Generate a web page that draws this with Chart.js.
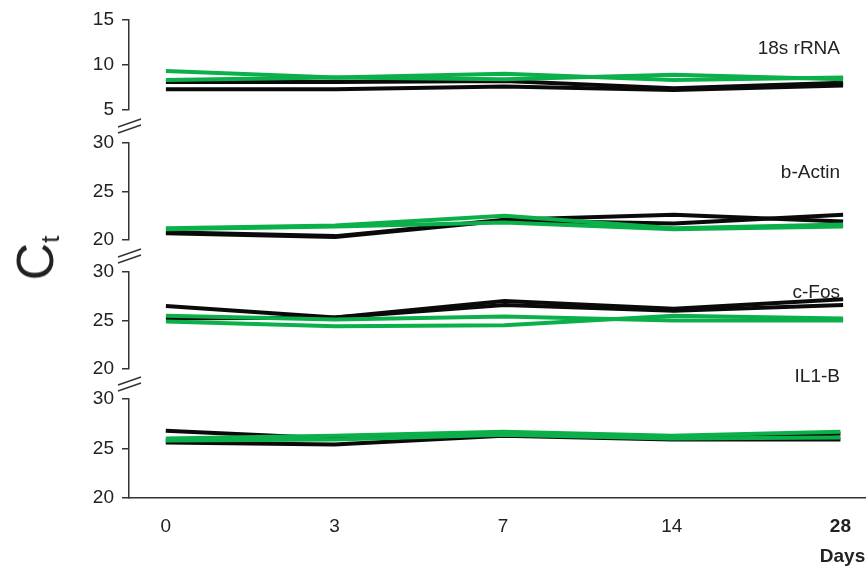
<!DOCTYPE html>
<html>
<head>
<meta charset="utf-8">
<script src="https://cdn.jsdelivr.net/npm/chart.js@4"></script>
<style>
  body { margin: 0; background: #fff; }
  #wrap { position: relative; width: 868px; height: 574px; font-family: "Liberation Sans", Arial, sans-serif; color: #222; }
  canvas { position: absolute; left: 0; top: 0; }
  .gene { position: absolute; right: 28px; font-size: 19px; line-height: 1; transform: translateY(-50%); }
  #ct { position: absolute; left: 36px; top: 258px; font-size: 52px; line-height: 1; white-space: nowrap;
        transform: translate(-50%, -50%) rotate(-90deg); }
  #ct sub { font-size: 26px; vertical-align: -6px; }
</style>
</head>
<body>
<div id="wrap">
  <canvas id="c0" width="868" height="574"></canvas>
  <canvas id="c1" width="868" height="574"></canvas>
  <canvas id="c2" width="868" height="574"></canvas>
  <canvas id="c3" width="868" height="574"></canvas>
  <div id="ct">C<sub>t</sub></div>
</div>
<script>
const days = ["0", "3", "7", "14", "28"];
const genes = ["18s rRNA", "b-Actin", "c-Fos", "IL1-B"];

// Ct values, two black and two green lines per gene
const rrnaBlack1 = [8.1, 8.1, 8.2, 7.4, 8.0];
const rrnaBlack2 = [7.3, 7.3, 7.6, 7.2, 7.7];
const rrnaGreen1 = [9.3, 8.6, 9.0, 8.3, 8.6];
const rrnaGreen2 = [8.3, 8.6, 8.4, 8.9, 8.4];

const actinBlack1 = [20.8, 20.4, 22.1, 22.6, 21.9];
const actinBlack2 = [20.7, 20.3, 22.0, 21.7, 22.6];
const actinGreen1 = [21.2, 21.5, 22.5, 21.2, 21.6];
const actinGreen2 = [21.1, 21.4, 21.8, 21.1, 21.4];

const fosBlack1 = [26.5, 25.3, 27.0, 26.2, 27.2];
const fosBlack2 = [25.2, 25.3, 26.6, 26.0, 26.6];
const fosGreen1 = [25.5, 25.1, 25.4, 25.0, 25.0];
const fosGreen2 = [24.9, 24.4, 24.5, 25.5, 25.2];

const il1bBlack1 = [26.8, 26.0, 26.6, 26.0, 26.5];
const il1bBlack2 = [25.6, 25.4, 26.3, 25.9, 25.9];
const il1bGreen1 = [26.0, 26.3, 26.7, 26.3, 26.7];
const il1bGreen2 = [25.8, 25.9, 26.4, 26.0, 26.1];

const yRanges = [[5, 15], [20, 30], [20, 30], [20, 30]];

// layout of each panel (pixels)
const panels = [
  { top: 16, bottom: 110, labelY: 47, breakY: 126 },
  { top: 143, bottom: 240, labelY: 171, breakY: 256 },
  { top: 272, bottom: 369, labelY: 291, breakY: 384 },
  { top: 399, bottom: 498, labelY: 375 }
];
const series = [
  [rrnaBlack1, rrnaBlack2, rrnaGreen1, rrnaGreen2],
  [actinBlack1, actinBlack2, actinGreen1, actinGreen2],
  [fosBlack1, fosBlack2, fosGreen1, fosGreen2],
  [il1bBlack1, il1bBlack2, il1bGreen1, il1bGreen2]
];

const BLACK = "#0a0a0a";
const GREEN = "#0bb04b";
const AXIS = "#333";
const FONT = "'Liberation Sans', Arial, sans-serif";

// slanted double slash between panels
const breakMarks = {
  id: "breakMarks",
  afterDraw(chart, args, opts) {
    if (opts.y == null) return;
    const ctx = chart.ctx;
    const x = chart.chartArea.left;
    ctx.save();
    ctx.strokeStyle = AXIS;
    ctx.lineWidth = 1.5;
    [-3, 3].forEach(off => {
      ctx.beginPath();
      ctx.moveTo(x - 11, opts.y + off + 4);
      ctx.lineTo(x + 12, opts.y + off - 4);
      ctx.stroke();
    });
    ctx.restore();
  }
};

function line(data, color) {
  return {
    data: data.map((v, i) => ({ x: i, y: v })),
    borderColor: color,
    borderWidth: 4,
    pointRadius: 0,
    tension: 0,
    borderJoinStyle: "round"
  };
}

panels.forEach((p, k) => {
  const s = series[k];
  const last = k === panels.length - 1;
  const label = document.createElement("div");
  label.className = "gene";
  label.style.top = p.labelY + "px";
  label.textContent = genes[k];
  document.getElementById("wrap").appendChild(label);

  new Chart(document.getElementById("c" + k), {
    type: "line",
    data: {
      // green drawn on top of black
      datasets: [line(s[2], GREEN), line(s[3], GREEN), line(s[0], BLACK), line(s[1], BLACK)]
    },
    options: {
      responsive: false,
      animation: false,
      events: [],
      layout: { padding: { top: p.top, bottom: last ? 0 : 574 - p.bottom, left: 0, right: 0 } },
      plugins: {
        legend: { display: false },
        tooltip: { enabled: false },
        breakMarks: { y: p.breakY }
      },
      scales: {
        x: {
          type: "linear",
          display: last,
          min: -0.218,
          max: 4.147,
          afterBuildTicks: sc => { sc.ticks = days.map((d, i) => ({ value: i })); },
          afterFit: sc => { sc.height = last ? 76 : 0; },
          grid: { display: false, drawTicks: false },
          border: { display: true, color: AXIS, width: 1.5 },
          ticks: {
            padding: 17,
            color: "#222",
            maxRotation: 0,
            autoSkip: false,
            callback: v => days[v],
            font: c => ({ family: FONT, size: 19, weight: c.index === 4 ? "bold" : "normal" })
          },
          title: {
            display: true,
            text: "Days",
            align: "end",
            color: "#222",
            font: { family: FONT, size: 19, weight: "bold" },
            padding: { top: 0, bottom: 6 }
          }
        },
        y: {
          min: yRanges[k][0],
          max: yRanges[k][1],
          afterFit: sc => { sc.width = 129; },
          grid: { display: true, drawOnChartArea: false, drawTicks: true, tickLength: 7, color: AXIS, lineWidth: 1.5 },
          border: { display: true, color: AXIS, width: 1.5 },
          ticks: { stepSize: 5, padding: 8, color: "#222", font: { family: FONT, size: 19 } }
        }
      }
    },
    plugins: [breakMarks]
  });
});
</script>
</body>
</html>
